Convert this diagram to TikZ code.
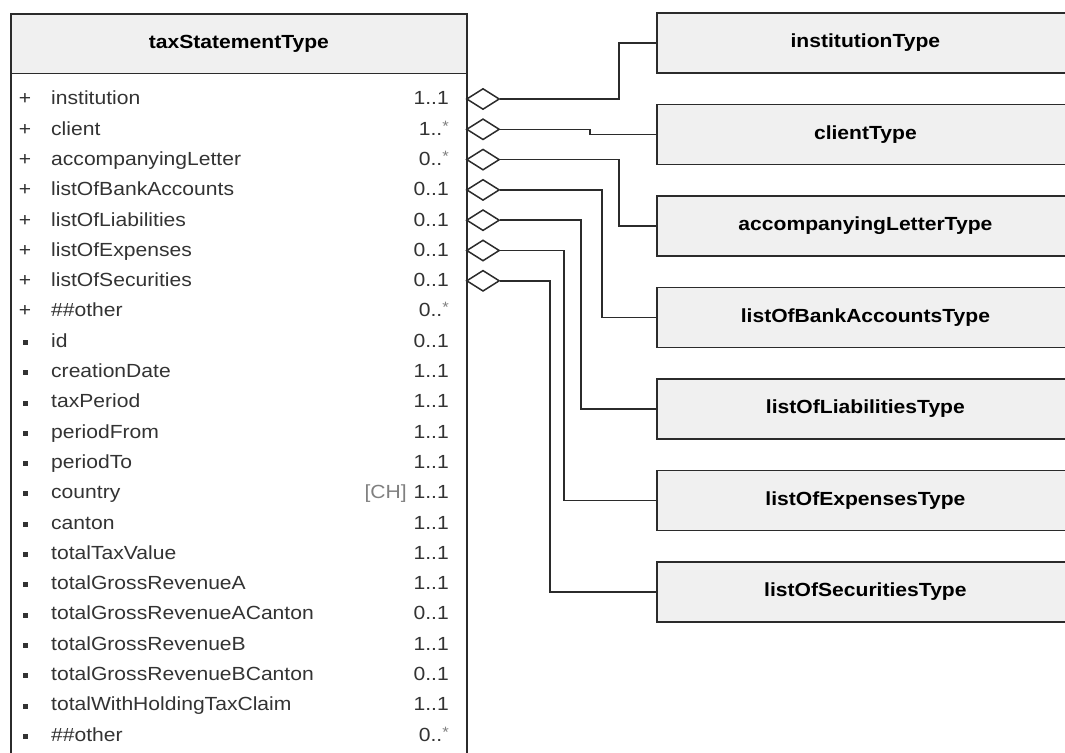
\documentclass[tikz,border=0pt]{standalone}
\usepackage{fontspec}
\setmainfont{Liberation Sans}[FakeStretch=1.11]
\usetikzlibrary{shapes.geometric,calc}
\definecolor{boxfill}{HTML}{F0F0F0}
\definecolor{ink}{HTML}{2B2B2B}
\definecolor{rowtext}{HTML}{333333}
\newcommand{\mstar}{\raisebox{4pt}{\textcolor{gray}{\fontsize{15}{15}\selectfont *}}}
\tikzset{
  every node/.style={font=\fontsize{19}{23}\selectfont},
  border/.style={draw=ink, line width=1.8pt},
  hdrbox/.style={border, fill=boxfill, minimum width=456pt, minimum height=59.5pt, anchor=north west, inner sep=0pt},
  mainbox/.style={border, fill=white, minimum width=456pt, minimum height=780pt, anchor=north west, inner sep=0pt},
  typebox/.style={border, fill=boxfill, minimum width=417pt, minimum height=60pt, anchor=west, inner sep=0pt, font=\fontsize{19}{23}\selectfont\bfseries},
  rowtxt/.style={text=rowtext, inner sep=0pt, text height=13.6pt, text depth=4pt},
  sym/.style={rowtxt, anchor=center},
  sqbullet/.style={fill=rowtext, minimum size=5pt, inner sep=0pt},
  diam/.style={diamond, draw=ink, fill=white, line width=1.5pt, minimum width=33pt, minimum height=21pt, inner sep=0pt},
  conn/.style={draw=ink, line width=1.5pt}
}
\begin{document}
\begin{tikzpicture}[x=1pt, y=-1pt]
\useasboundingbox (0,0) rectangle (1065,752);
\clip (0,0) rectangle (1065,752);
% main class box
\node[mainbox] (main) at (10,13) {};
\node[hdrbox] (hdr) at (10,13) {};
\node[font=\fontsize{19}{23}\selectfont\bfseries, text=black] (title) at (hdr.center) {taxStatementType};
% rows
\foreach \i/\s/\n/\m in {
  1/+/institution/1..1,
  2/+/client/1..\mstar,
  3/+/accompanyingLetter/0..\mstar,
  4/+/listOfBankAccounts/0..1,
  5/+/listOfLiabilities/0..1,
  6/+/listOfExpenses/0..1,
  7/+/listOfSecurities/0..1,
  8/+/\#\#other/0..\mstar,
  9/s/id/0..1,
  10/s/creationDate/1..1,
  11/s/taxPeriod/1..1,
  12/s/periodFrom/1..1,
  13/s/periodTo/1..1,
  14/s/country/1..1,
  15/s/canton/1..1,
  16/s/totalTaxValue/1..1,
  17/s/totalGrossRevenueA/1..1,
  18/s/totalGrossRevenueACanton/0..1,
  19/s/totalGrossRevenueB/1..1,
  20/s/totalGrossRevenueBCanton/0..1,
  21/s/totalWithHoldingTaxClaim/1..1,
  22/s/\#\#other/0..\mstar}{
  \pgfmathsetmacro{\yy}{100+30.3*(\i-1)}
  \if\s+
    \node[sym] (b\i) at (25,\yy) {+};
  \else
    \node[sqbullet] (b\i) at (25,\yy) {};
  \fi
  \node[rowtxt, anchor=west] (r\i) at (51,\yy) {\n};
  \node[rowtxt, anchor=east] (m\i) at (449,\yy) {\m};
}
\node[rowtxt, anchor=east, text=gray] (ch) at (407,{100+30.3*13}) {[CH]};
% type boxes
\node[typebox] (t1) at (656,43) {institutionType};
\node[typebox] (t2) at (656,134.5) {clientType};
\node[typebox] (t3) at (656,226) {accompanyingLetterType};
\node[typebox] (t4) at (656,317.5) {listOfBankAccountsType};
\node[typebox] (t5) at (656,409) {listOfLiabilitiesType};
\node[typebox] (t6) at (656,500.5) {listOfExpensesType};
\node[typebox] (t7) at (656,592) {listOfSecuritiesType};
% bend coordinates
\coordinate (v1) at (619,0);
\coordinate (v2) at (590,0);
\coordinate (v3) at (619,0);
\coordinate (v4) at (602,0);
\coordinate (v5) at (581,0);
\coordinate (v6) at (564,0);
\coordinate (v7) at (550,0);
% diamonds and connectors
\foreach \k in {1,...,7}{
  \pgfmathsetmacro{\yy}{99+30.3*(\k-1)}
  \node[diam] (d\k) at (483,\yy) {};
  \draw[conn] (d\k.east) -- (d\k.east -| v\k) |- (t\k.west);
}
\end{tikzpicture}
\end{document}
